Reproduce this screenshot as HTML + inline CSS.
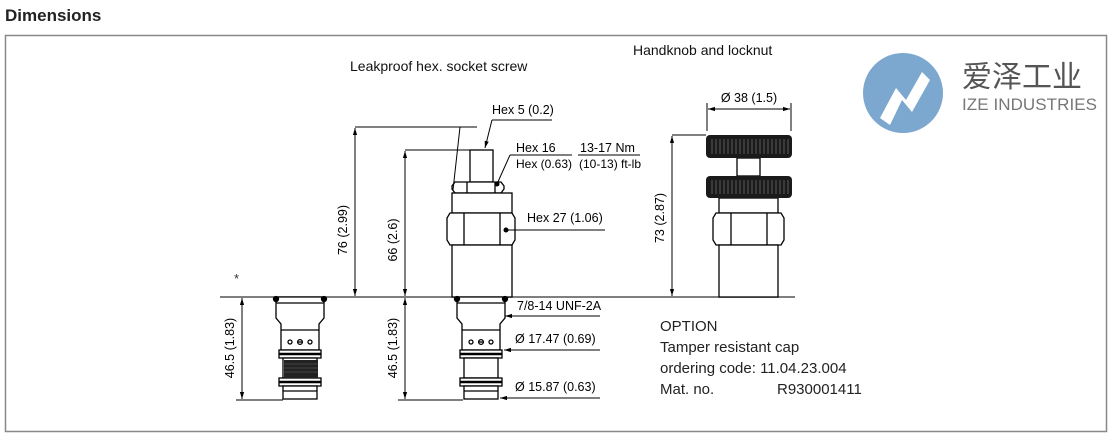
<!DOCTYPE html>
<html><head><meta charset="utf-8"><style>
html,body{margin:0;padding:0;background:#fff;}
body{width:1113px;height:436px;overflow:hidden;position:relative;font-family:"Liberation Sans",sans-serif;}
svg{position:absolute;left:0;top:0;}
</style></head><body>
<svg width="1113" height="436" viewBox="0 0 1113 436" xmlns="http://www.w3.org/2000/svg" font-family="Liberation Sans, sans-serif">
<defs>
<g id="cart" stroke="#000" stroke-width="1.3" fill="#fff">
  <path d="M457 297 L505 297 L505 318 L500 324 L500 350 L462 350 L462 324 L457 318 Z"/>
  <line x1="457" y1="303" x2="505" y2="303"/>
  <circle cx="457" cy="299" r="2.5" fill="#000"/><circle cx="505" cy="299" r="2.5" fill="#000"/>
  <line x1="462" y1="330" x2="500" y2="330"/>
  <circle cx="471" cy="342" r="2" fill="#fff"/><circle cx="481" cy="342" r="2.4" fill="#fff"/><line x1="479" y1="342" x2="483" y2="342"/><circle cx="491" cy="342" r="2" fill="#fff"/>
  <rect x="460" y="350" width="42" height="8"/>
  <line x1="460" y1="354" x2="502" y2="354" stroke-width="2.5"/>
  <rect x="464" y="358" width="34" height="20"/>
  <rect x="460" y="378" width="42" height="8"/>
  <line x1="460" y1="382" x2="502" y2="382" stroke-width="2.5"/>
  <rect x="464" y="386" width="34" height="13"/>
  <line x1="464" y1="391" x2="498" y2="391"/>
</g>
<marker id="ar" viewBox="0 0 10 10" refX="10" refY="5" markerWidth="7" markerHeight="7" orient="auto-start-reverse"><path d="M0 2 L10 5 L0 8 Z" fill="#000"/></marker>
</defs>

<text x="5" y="21" font-size="17" font-weight="bold" fill="#222">Dimensions</text>
<rect x="5.5" y="35.5" width="1101" height="396" fill="none" stroke="#888" stroke-width="1.5"/>

<text x="350" y="71" font-size="14" fill="#111">Leakproof hex. socket screw</text>
<text x="633" y="55" font-size="14" fill="#111">Handknob and locknut</text>
<text x="234" y="283" font-size="13" fill="#333">*</text>

<line x1="220" y1="297" x2="795" y2="297" stroke="#555" stroke-width="1.5"/>

<g stroke="#000" stroke-width="1.3" fill="#fff">
  <rect x="470" y="150" width="23" height="32"/>
  <path d="M455 182 L501 182 L504 186 L504 189 L501 193 L455 193 L452 189 L452 186 Z"/>
  <line x1="467" y1="182" x2="467" y2="193"/><line x1="495" y1="182" x2="495" y2="193"/>
  <rect x="452" y="193" width="60" height="20"/>
  <path d="M450 213 L512 213 L515 218 L515 240 L512 245 L450 245 L447 240 L447 218 Z"/>
  <line x1="464" y1="213" x2="464" y2="245"/><line x1="500" y1="213" x2="500" y2="245"/>
  <rect x="452" y="245" width="60" height="52"/>
</g>
<use href="#cart"/>
<use href="#cart" transform="translate(-181 0)"/>
<rect x="284" y="360" width="34" height="18" fill="#222"/>
<g stroke="#666" stroke-width="0.6"><line x1="284" y1="364" x2="318" y2="364"/><line x1="284" y1="368" x2="318" y2="368"/><line x1="284" y1="372" x2="318" y2="372"/></g>

<g stroke="#000" stroke-width="1" fill="none">
  <line x1="355" y1="127" x2="477" y2="127"/>
  <line x1="355" y1="128" x2="355" y2="296" marker-start="url(#ar)" marker-end="url(#ar)"/>
  <line x1="460" y1="127" x2="453" y2="190"/>
  <line x1="405" y1="150" x2="470" y2="150"/>
  <line x1="405" y1="151" x2="405" y2="296" marker-start="url(#ar)" marker-end="url(#ar)"/>
  <line x1="405" y1="298" x2="405" y2="399" marker-start="url(#ar)" marker-end="url(#ar)"/>
  <line x1="398" y1="400" x2="463" y2="400"/>
  <line x1="242" y1="298" x2="242" y2="399" marker-start="url(#ar)" marker-end="url(#ar)"/>
  <line x1="236" y1="400" x2="283" y2="400"/>
  <line x1="492" y1="120" x2="552" y2="120"/>
  <line x1="492" y1="120" x2="485" y2="148" marker-end="url(#ar)"/>
  <line x1="510" y1="155" x2="572" y2="155"/>
  <line x1="510" y1="155" x2="497" y2="184"/>
  <line x1="578" y1="155" x2="640" y2="155"/>
  <line x1="506" y1="230" x2="605" y2="230"/>
  <line x1="600" y1="316" x2="505" y2="316" marker-end="url(#ar)"/>
  <line x1="600" y1="350" x2="504" y2="350" marker-end="url(#ar)"/>
  <line x1="600" y1="398" x2="500" y2="398" marker-end="url(#ar)"/>
  <line x1="672" y1="135" x2="706" y2="135"/>
  <line x1="672" y1="136" x2="672" y2="296" marker-start="url(#ar)" marker-end="url(#ar)"/>
  <line x1="707" y1="103" x2="707" y2="131"/><line x1="791" y1="103" x2="791" y2="131"/>
  <line x1="708" y1="109" x2="790" y2="109" marker-start="url(#ar)" marker-end="url(#ar)"/>
</g>
<circle cx="497" cy="184" r="2.5"/><circle cx="506" cy="230" r="2.5"/>

<g font-size="12.5" fill="#000">
  <text transform="translate(347 230) rotate(-90)" text-anchor="middle">76 (2.99)</text>
  <text transform="translate(397 240) rotate(-90)" text-anchor="middle">66 (2.6)</text>
  <text transform="translate(397 348) rotate(-90)" text-anchor="middle">46.5 (1.83)</text>
  <text transform="translate(234 348) rotate(-90)" text-anchor="middle">46.5 (1.83)</text>
  <text transform="translate(664 218) rotate(-90)" text-anchor="middle">73 (2.87)</text>
  <text x="492" y="114">Hex 5 (0.2)</text>
  <text x="516" y="152">Hex 16</text>
  <text x="516" y="168" font-size="12">Hex (0.63)</text>
  <text x="580" y="152">13-17 Nm</text>
  <text x="579" y="168" font-size="12">(10-13) ft-lb</text>
  <text x="527" y="222">Hex 27 (1.06)</text>
  <text x="517" y="310">7/8-14 UNF-2A</text>
  <text x="515" y="343">Ø 17.47 (0.69)</text>
  <text x="515" y="391">Ø 15.87 (0.63)</text>
  <text x="749" y="102" text-anchor="middle">Ø 38 (1.5)</text>
</g>

<g stroke="#000" stroke-width="1.3" fill="#fff">
  <rect x="737" y="158" width="23" height="18"/>
  <rect x="719" y="198" width="59" height="15"/>
  <path d="M716 213 L781 213 L784 218 L784 240 L781 245 L716 245 L713 240 L713 218 Z"/>
  <line x1="731" y1="213" x2="731" y2="245"/><line x1="767" y1="213" x2="767" y2="245"/>
  <rect x="719" y="245" width="59" height="52"/>
</g>
<rect x="706" y="135" width="86" height="23" rx="4" fill="#1a1a1a"/>
<rect x="706" y="176" width="86" height="22" rx="4" fill="#1a1a1a"/>
<g stroke="#777" stroke-width="0.7">
  <path d="M712 139V154M716 139V154M720 139V154M724 139V154M728 139V154M732 139V154M736 139V154M740 139V154M744 139V154M748 139V154M752 139V154M756 139V154M760 139V154M764 139V154M768 139V154M772 139V154M776 139V154M780 139V154M784 139V154M788 139V154"/>
  <path d="M712 180V194M716 180V194M720 180V194M724 180V194M728 180V194M732 180V194M736 180V194M740 180V194M744 180V194M748 180V194M752 180V194M756 180V194M760 180V194M764 180V194M768 180V194M772 180V194M776 180V194M780 180V194M784 180V194M788 180V194"/>
</g>

<circle cx="903" cy="93" r="40" fill="#7ca7cf"/>
<path d="M880 118 L896 88 L906 100 L922 72 L930 80 L912 112 L902 100 L890 125 Z" fill="#fff"/>
<text x="962" y="87" font-size="30" fill="#555" font-family="Liberation Sans, Noto Sans CJK SC, sans-serif">爱泽工业</text>
<text x="962" y="110" font-size="17" fill="#777" textLength="135">IZE INDUSTRIES</text>

<g font-size="15" fill="#222">
  <text x="660" y="331">OPTION</text>
  <text x="660" y="352">Tamper resistant cap</text>
  <text x="660" y="373">ordering code: 11.04.23.004</text>
  <text x="660" y="394">Mat. no.</text>
  <text x="777" y="394">R930001411</text>
</g>
</svg>
</body></html>
